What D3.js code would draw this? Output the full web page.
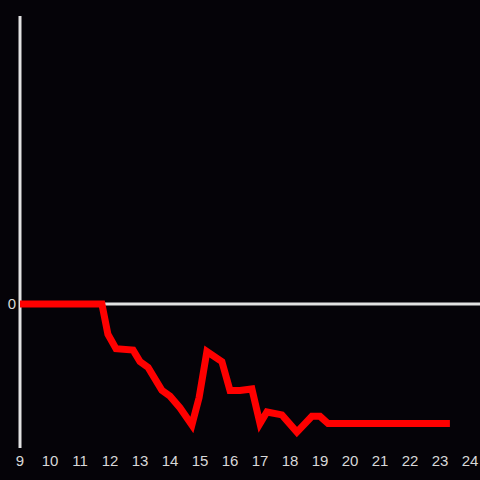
<!DOCTYPE html>
<html>
<head>
<meta charset="utf-8">
<script src="https://cdn.jsdelivr.net/npm/d3@7"></script>
<style>
  html, body { margin: 0; padding: 0; background: #050308; }
  svg { display: block; }
</style>
</head>
<body>
<svg id="chart" width="480" height="480"></svg>
<script>
// hour of day and value
const hours = [9, 11.73, 11.93, 12.2, 12.77, 13.0, 13.27, 13.73, 14.0, 14.33, 14.73, 14.97, 15.23,
  15.73, 16.0, 16.33, 16.73, 17.0, 17.23, 17.73, 18.23, 18.73, 19.0, 19.27, 23.33];
const values = [0, 0, -21, -31, -32, -40, -44, -60, -64, -72, -84, -65, -33,
  -40, -60, -60, -59, -83, -75, -77, -89, -78, -78, -83, -83];
const xTicks = [9, 10, 11, 12, 13, 14, 15, 16, 17, 18, 19, 20, 21, 22, 23, 24];
const yTicks = [0];

const width = 480;
const svg = d3.select("#chart");

const x = d3.scaleLinear().domain([9, 24]).range([20, 470]);
const y = d3.scaleLinear().domain([-100, 200]).range([448, 16]);

const axisColor = "#e2e2e2";
const labelColor = "#d8d8d8";
const font = "Liberation Sans, Arial, sans-serif";

// y axis line
svg.append("line")
  .attr("x1", x(9)).attr("x2", x(9))
  .attr("y1", y(200)).attr("y2", y(-100))
  .attr("stroke", axisColor)
  .attr("stroke-width", 3);

// zero line
svg.append("line")
  .attr("x1", x(9)).attr("x2", width)
  .attr("y1", y(0)).attr("y2", y(0))
  .attr("stroke", axisColor)
  .attr("stroke-width", 3);

svg.append("g")
  .selectAll("text")
  .data(yTicks)
  .join("text")
  .attr("x", x(9) - 4)
  .attr("y", (d) => y(d))
  .attr("dy", "0.35em")
  .attr("text-anchor", "end")
  .attr("fill", labelColor)
  .attr("font-family", font)
  .attr("font-size", 15)
  .text((d) => d);

svg.append("g")
  .selectAll("text")
  .data(xTicks)
  .join("text")
  .attr("x", (d) => x(d))
  .attr("y", 461)
  .attr("dy", "0.35em")
  .attr("text-anchor", "middle")
  .attr("fill", labelColor)
  .attr("font-family", font)
  .attr("font-size", 15)
  .text((d) => d);

const points = hours.map((h, i) => [h, values[i]]);
const line = d3.line()
  .x((d) => x(d[0]))
  .y((d) => y(d[1]));

svg.append("path")
  .datum(points)
  .attr("d", line)
  .attr("fill", "none")
  .attr("stroke", "#ff0000")
  .attr("stroke-width", 7)
  .attr("stroke-linejoin", "miter");
</script>
</body>
</html>
